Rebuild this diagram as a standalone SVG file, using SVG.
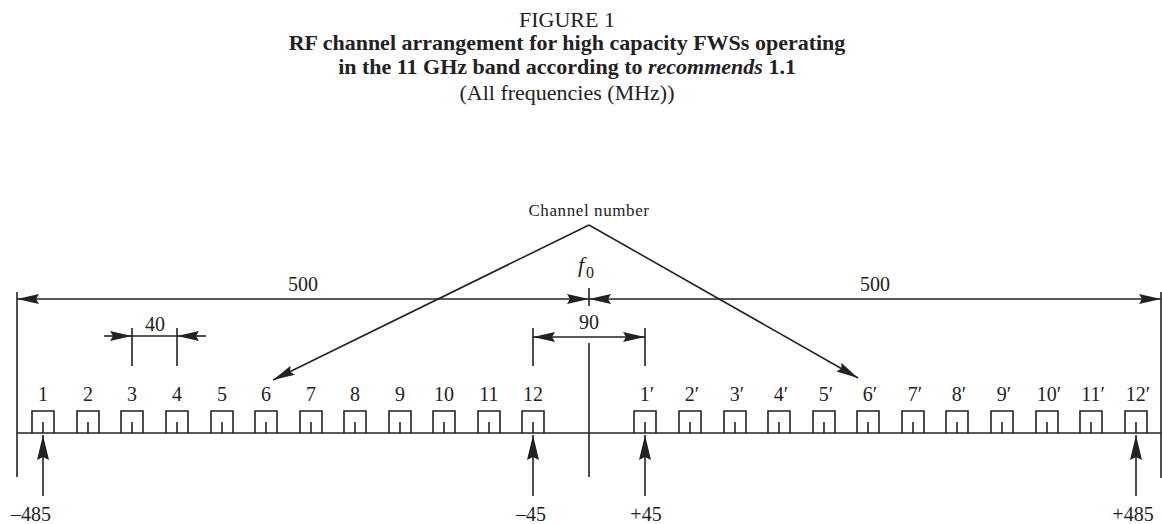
<svg xmlns="http://www.w3.org/2000/svg" width="1162" height="524" viewBox="0 0 1162 524">
<style>
  text { font-family: "Liberation Serif", "Times New Roman", serif; fill: #222; }
  .t { font-size: 22px; text-anchor: middle; }
  .tb { font-size: 22px; font-weight: bold; text-anchor: middle; }
  .n { font-size: 20px; text-anchor: middle; }
  .ln { stroke: #222; stroke-width: 1.6; fill: none; }
  .box { stroke: #222; stroke-width: 1.6; fill: none; }
</style>
<defs>
  <marker id="ah" markerUnits="userSpaceOnUse" markerWidth="22" markerHeight="10" refX="22" refY="5" orient="auto-start-reverse">
    <path d="M0,0 L22,5 L0,10 L3,5 z" fill="#222"/>
  </marker>
  <marker id="up" markerUnits="userSpaceOnUse" markerWidth="25" markerHeight="12" refX="25" refY="6" orient="auto">
    <path d="M0,0 L25,6 L0,12 L3,6 z" fill="#222"/>
  </marker>
</defs>

<g id="title">
  <text class="t" x="567" y="27">FIGURE 1</text>
  <text class="tb" x="567" y="50">RF channel arrangement for high capacity FWSs operating</text>
  <text class="tb" x="567" y="74">in the 11 GHz band according to <tspan font-style="italic">recommends</tspan> 1.1</text>
  <text class="t" x="567" y="100">(All frequencies (MHz))</text>
</g>

<g id="connectors">
  <!-- 500 dimensions -->
  <line class="ln" x1="17" y1="299" x2="589" y2="299" marker-start="url(#ah)" marker-end="url(#ah)"/>
  <line class="ln" x1="589" y1="299" x2="1161" y2="299" marker-start="url(#ah)" marker-end="url(#ah)"/>
  <line class="ln" x1="17" y1="292" x2="17" y2="477"/>
  <line class="ln" x1="1161" y1="292" x2="1161" y2="478"/>
  <line class="ln" x1="589" y1="288" x2="589" y2="306"/>
  <line class="ln" x1="589" y1="343" x2="589" y2="477"/>
  <!-- 90 dimension -->
  <line class="ln" x1="533" y1="328" x2="533" y2="366"/>
  <line class="ln" x1="645" y1="328" x2="645" y2="366"/>
  <line class="ln" x1="533" y1="337" x2="645" y2="337" marker-start="url(#ah)" marker-end="url(#ah)"/>
  <!-- 40 dimension -->
  <line class="ln" x1="132" y1="328" x2="132" y2="366"/>
  <line class="ln" x1="177" y1="328" x2="177" y2="366"/>
  <line class="ln" x1="104" y1="336" x2="132" y2="336" marker-end="url(#ah)"/>
  <line class="ln" x1="132" y1="336" x2="177" y2="336"/>
  <line class="ln" x1="206" y1="336" x2="177" y2="336" marker-end="url(#ah)"/>
  <!-- channel number pointers -->
  <line class="ln" x1="589" y1="225" x2="273" y2="380" marker-end="url(#ah)"/>
  <line class="ln" x1="589" y1="225" x2="858" y2="378" marker-end="url(#ah)"/>
  <!-- baseline -->
  <line class="ln" x1="17" y1="433" x2="1161" y2="433"/>
  <!-- frequency arrows -->
  <line class="ln" x1="43" y1="496" x2="43" y2="435" marker-end="url(#up)"/>
  <line class="ln" x1="533" y1="496" x2="533" y2="435" marker-end="url(#up)"/>
  <line class="ln" x1="645" y1="496" x2="645" y2="435" marker-end="url(#up)"/>
  <line class="ln" x1="1136" y1="496" x2="1136" y2="435" marker-end="url(#up)"/>
</g>

<g id="labels">
  <text class="n" x="303" y="291">500</text>
  <text class="n" x="875" y="291">500</text>
  <text class="n" x="155" y="331">40</text>
  <text class="n" x="589" y="329">90</text>
  <text x="578" y="272" font-size="22" font-style="italic">f</text>
  <text x="586" y="278" font-size="16">0</text>
  <text x="589" y="216" font-size="17" text-anchor="middle" letter-spacing="0.6">Channel number</text>
  <text class="n" x="31" y="521">–485</text>
  <text class="n" x="531" y="521">–45</text>
  <text class="n" x="646" y="521">+45</text>
  <text class="n" x="1133" y="521">+485</text>
</g>

<g id="channels-left">
  <g id="ch1"><text class="n" x="43" y="401">1</text><path class="box" d="M32,433 V411 H54 V433 M43,422 V433"/></g>
  <g id="ch2"><text class="n" x="88" y="401">2</text><path class="box" d="M77,433 V411 H99 V433 M88,422 V433"/></g>
  <g id="ch3"><text class="n" x="132" y="401">3</text><path class="box" d="M121,433 V411 H143 V433 M132,422 V433"/></g>
  <g id="ch4"><text class="n" x="177" y="401">4</text><path class="box" d="M166,433 V411 H188 V433 M177,422 V433"/></g>
  <g id="ch5"><text class="n" x="222" y="401">5</text><path class="box" d="M211,433 V411 H233 V433 M222,422 V433"/></g>
  <g id="ch6"><text class="n" x="266" y="401">6</text><path class="box" d="M255,433 V411 H277 V433 M266,422 V433"/></g>
  <g id="ch7"><text class="n" x="311" y="401">7</text><path class="box" d="M300,433 V411 H322 V433 M311,422 V433"/></g>
  <g id="ch8"><text class="n" x="355" y="401">8</text><path class="box" d="M344,433 V411 H366 V433 M355,422 V433"/></g>
  <g id="ch9"><text class="n" x="400" y="401">9</text><path class="box" d="M389,433 V411 H411 V433 M400,422 V433"/></g>
  <g id="ch10"><text class="n" x="444" y="401">10</text><path class="box" d="M433,433 V411 H455 V433 M444,422 V433"/></g>
  <g id="ch11"><text class="n" x="489" y="401">11</text><path class="box" d="M478,433 V411 H500 V433 M489,422 V433"/></g>
  <g id="ch12"><text class="n" x="533" y="401">12</text><path class="box" d="M522,433 V411 H544 V433 M533,422 V433"/></g>
</g>

<g id="channels-right">
  <g id="ch1p"><text class="n" x="647" y="401">1′</text><path class="box" d="M634,433 V411 H656 V433 M645,422 V433"/></g>
  <g id="ch2p"><text class="n" x="692" y="401">2′</text><path class="box" d="M679,433 V411 H701 V433 M690,422 V433"/></g>
  <g id="ch3p"><text class="n" x="737" y="401">3′</text><path class="box" d="M724,433 V411 H746 V433 M735,422 V433"/></g>
  <g id="ch4p"><text class="n" x="781" y="401">4′</text><path class="box" d="M768,433 V411 H790 V433 M779,422 V433"/></g>
  <g id="ch5p"><text class="n" x="826" y="401">5′</text><path class="box" d="M813,433 V411 H835 V433 M824,422 V433"/></g>
  <g id="ch6p"><text class="n" x="870" y="401">6′</text><path class="box" d="M857,433 V411 H879 V433 M868,422 V433"/></g>
  <g id="ch7p"><text class="n" x="915" y="401">7′</text><path class="box" d="M902,433 V411 H924 V433 M913,422 V433"/></g>
  <g id="ch8p"><text class="n" x="959" y="401">8′</text><path class="box" d="M946,433 V411 H968 V433 M957,422 V433"/></g>
  <g id="ch9p"><text class="n" x="1004" y="401">9′</text><path class="box" d="M991,433 V411 H1013 V433 M1002,422 V433"/></g>
  <g id="ch10p"><text class="n" x="1049" y="401">10′</text><path class="box" d="M1036,433 V411 H1058 V433 M1047,422 V433"/></g>
  <g id="ch11p"><text class="n" x="1093" y="401">11′</text><path class="box" d="M1080,433 V411 H1102 V433 M1091,422 V433"/></g>
  <g id="ch12p"><text class="n" x="1138" y="401">12′</text><path class="box" d="M1125,433 V411 H1147 V433 M1136,422 V433"/></g>
</g>
</svg>
